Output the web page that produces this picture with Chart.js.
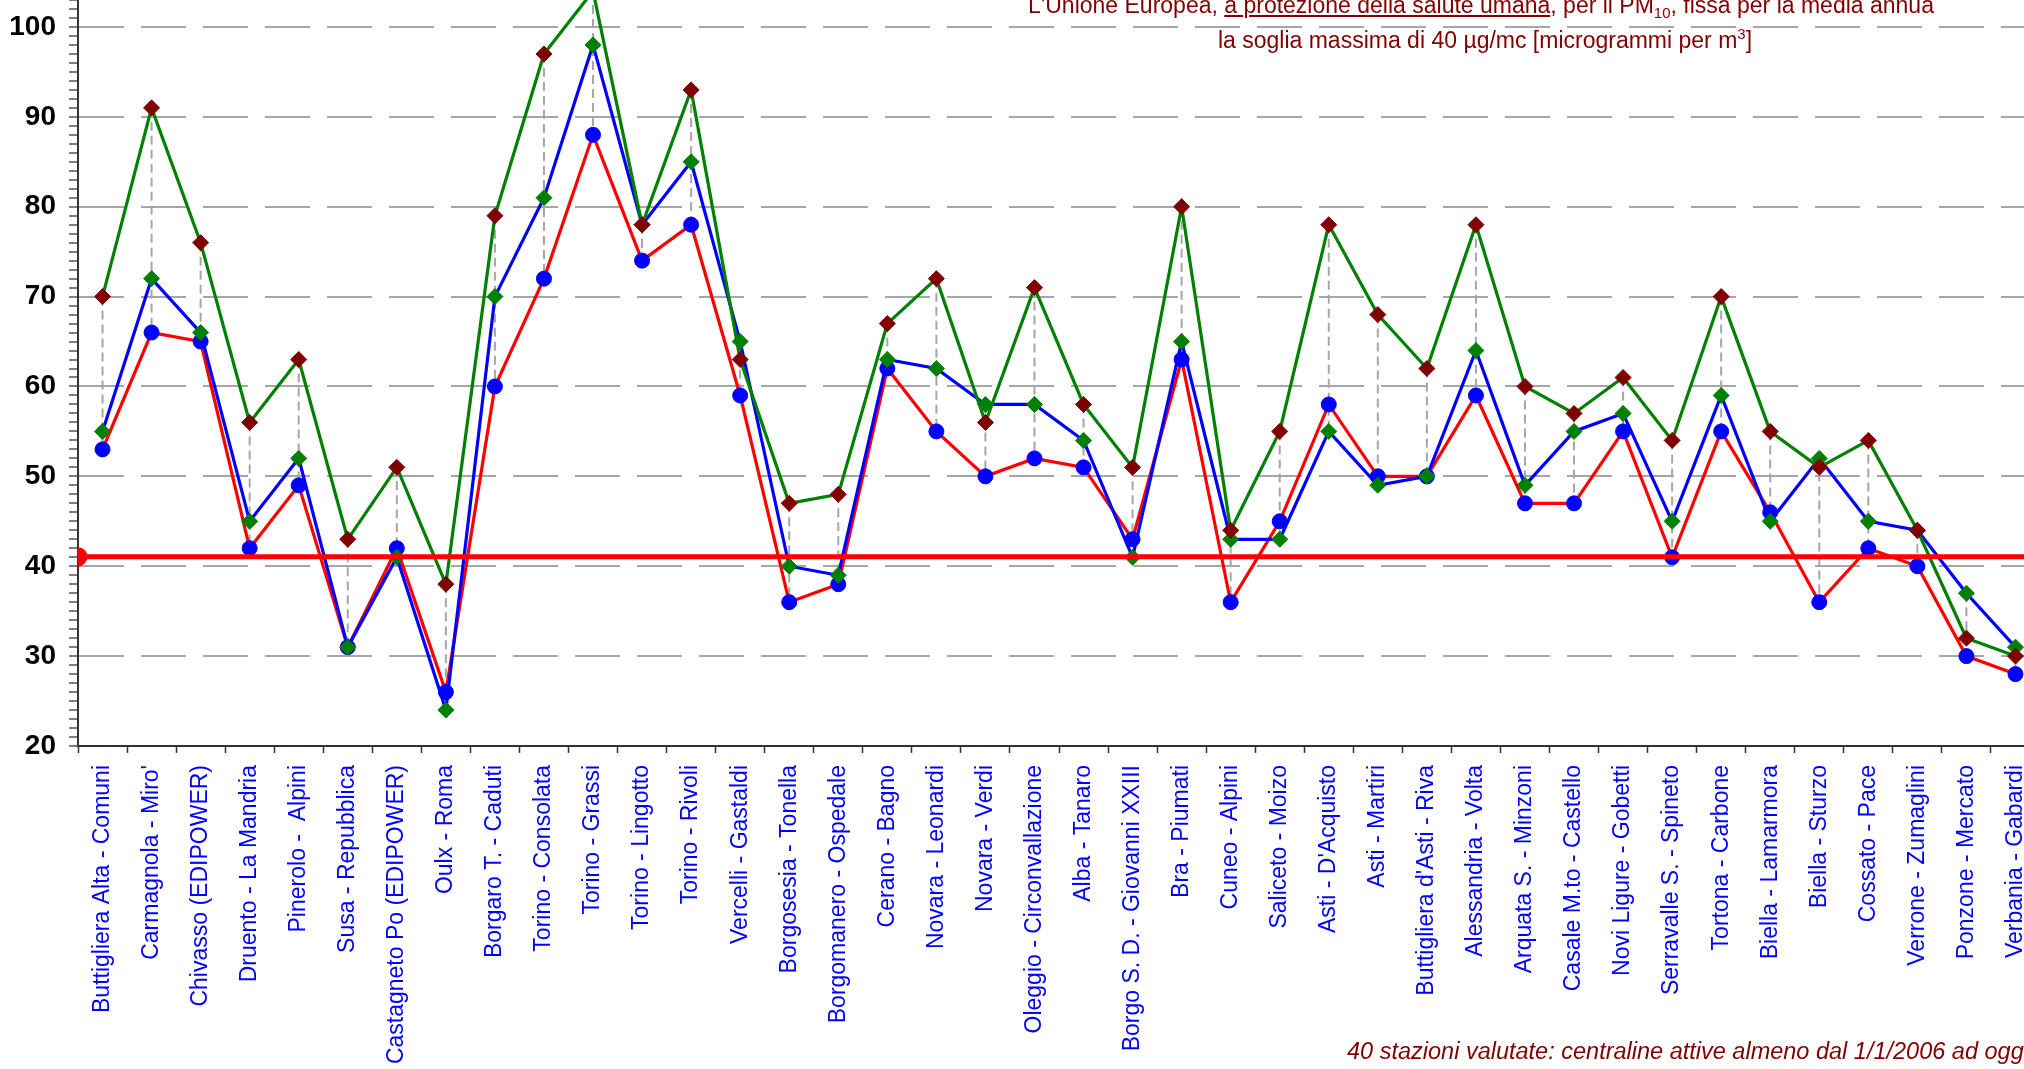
<!DOCTYPE html>
<html>
<head>
<meta charset="utf-8">
<title>PM10 - media annua</title>
<script src="https://cdn.jsdelivr.net/npm/chart.js@4.4.1/dist/chart.umd.min.js"></script>
<style>
  html, body { margin: 0; padding: 0; background: #fff; overflow: hidden; width: 2024px; height: 1069px; }
  #wrap { position: absolute; left: 0; top: 0; width: 2050px; height: 1069px; }
  .nota { position: absolute; white-space: nowrap; color: #800000; font-family: "Liberation Sans", Arial, sans-serif; font-size: 23px; line-height: 23px; }
  .nota u { text-decoration-thickness: 2px; text-underline-offset: 2px; }
  .pedice { font-size: 15px; position: relative; top: 5px; }
  .apice { font-size: 15px; position: relative; top: -9px; }
</style>
</head>
<body>
<div id="wrap"><canvas id="grafico"></canvas></div>
<div class="nota" style="left:1481px; top:-6px; transform:translateX(-50%);">L'Unione Europea, <u>a protezione della salute umana</u>, per il PM<span class="pedice">10</span>, fissa per la media annua</div>
<div class="nota" style="left:1485px; top:29px; transform:translateX(-50%);">la soglia massima di 40 &micro;g/mc [microgrammi per m<span class="apice">3</span>]</div>
<div class="nota" style="left:1347px; top:1040px; font-style:italic; font-size:23.5px;">40 stazioni valutate: centraline attive almeno dal 1/1/2006 ad oggi</div>

<script>
// stazioni di misura (asse x)
const stazioni = [
  "Buttigliera Alta - Comuni", "Carmagnola - Miro'", "Chivasso (EDIPOWER)", "Druento - La Mandria",
  "Pinerolo -  Alpini", "Susa - Repubblica", "Castagneto Po (EDIPOWER)", "Oulx - Roma",
  "Borgaro T. - Caduti", "Torino - Consolata", "Torino - Grassi", "Torino - Lingotto",
  "Torino - Rivoli", "Vercelli - Gastaldi", "Borgosesia - Tonella", "Borgomanero - Ospedale",
  "Cerano - Bagno", "Novara - Leonardi", "Novara - Verdi", "Oleggio - Circonvallazione",
  "Alba - Tanaro", "Borgo S. D. - Giovanni XXIII", "Bra - Piumati", "Cuneo - Alpini",
  "Saliceto - Moizo", "Asti - D'Acquisto", "Asti - Martiri", "Buttigliera d'Asti - Riva",
  "Alessandria - Volta", "Arquata S. - Minzoni", "Casale M.to - Castello", "Novi Ligure - Gobetti",
  "Serravalle S. - Spineto", "Tortona - Carbone", "Biella - Lamarmora", "Biella - Sturzo",
  "Cossato - Pace", "Verrone - Zumaglini", "Ponzone - Mercato", "Verbania - Gabardi"
];

// linea verde, rombi bordeaux
const serieVerde = [70, 91, 76, 56, 63, 43, 51, 38, 79, 97, 104, 78, 93, 63, 47, 48, 67, 72, 56, 71,
                    58, 51, 80, 44, 55, 78, 68, 62, 78, 60, 57, 61, 54, 70, 55, 51, 54, 44, 32, 30];
// linea blu, rombi verdi
const serieBlu = [55, 72, 66, 45, 52, 31, 41, 24, 70, 81, 98, 78, 85, 65, 40, 39, 63, 62, 58, 58,
                  54, 41, 65, 43, 43, 55, 49, 50, 64, 49, 55, 57, 45, 59, 45, 52, 45, 44, 37, 31];
// linea rossa, cerchi blu
const serieRossa = [53, 66, 65, 42, 49, 31, 42, 26, 60, 72, 88, 74, 78, 59, 36, 38, 62, 55, 50, 52,
                    51, 43, 63, 36, 45, 58, 50, 50, 59, 47, 47, 55, 41, 55, 46, 36, 42, 40, 30, 28];

// linea rossa orizzontale (inizio, fine)
const soglia = [41.05, 41.05];

const yMin = 20;
const yMax = 103;

const font = '"Liberation Sans", Arial, sans-serif';

// linee tratteggiate verticali tra valore max e min di ogni stazione
const lineeMaxMin = {
  id: 'lineeMaxMin',
  beforeDatasetsDraw(chart) {
    const ctx = chart.ctx;
    const x = chart.scales.x;
    const y = chart.scales.y;
    ctx.save();
    ctx.strokeStyle = '#a6a6a6';
    ctx.lineWidth = 2;
    ctx.setLineDash([9, 5]);
    for (let i = 0; i < stazioni.length; i++) {
      const v = [serieVerde[i], serieBlu[i], serieRossa[i]];
      const px = x.getPixelForValue(i);
      ctx.beginPath();
      ctx.moveTo(px, y.getPixelForValue(Math.max(...v)));
      ctx.lineTo(px, y.getPixelForValue(Math.min(...v)));
      ctx.stroke();
    }
    ctx.restore();
  }
};

new Chart(document.getElementById('grafico'), {
  type: 'line',
  data: {
    labels: stazioni,
    datasets: [{
      data: soglia.map((v, i) => ({ x: i, y: v })),
      xAxisID: 'x2',
      borderColor: '#ff0000',
      borderWidth: 5,
      pointRadius: [7, 0],
      pointBackgroundColor: '#ff0000',
      pointBorderColor: '#ff0000',
      order: 0
    }, {
      data: serieVerde,
      borderColor: '#008000',
      borderWidth: 3.2,
      pointStyle: 'rectRot',
      pointRadius: 8,
      pointBackgroundColor: '#800000',
      pointBorderColor: '#800000',
      pointBorderWidth: 1,
      order: 1
    }, {
      data: serieBlu,
      borderColor: '#0000ff',
      borderWidth: 3.2,
      pointStyle: 'rectRot',
      pointRadius: 8,
      pointBackgroundColor: '#008000',
      pointBorderColor: '#008000',
      pointBorderWidth: 1,
      order: 2
    }, {
      data: serieRossa,
      borderColor: '#ff0000',
      borderWidth: 3.2,
      pointStyle: 'circle',
      pointRadius: 7.5,
      pointBackgroundColor: '#0000ff',
      pointBorderColor: '#0000ff',
      pointBorderWidth: 1,
      order: 3
    }]
  },
  options: {
    responsive: true,
    maintainAspectRatio: false,
    animation: false,
    events: [],
    layout: { autoPadding: false, padding: { left: 0, right: 10, top: 0, bottom: 0 } },
    elements: { line: { tension: 0, fill: false } },
    plugins: {
      legend: { display: false },
      tooltip: { enabled: false }
    },
    scales: {
      x: {
        type: 'category',
        offset: true,
        afterFit(s) { s.height = 323; s.paddingLeft = 0; s.paddingRight = 0; },
        ticks: {
          color: '#0000ff',
          font: { family: font, size: 23 },
          minRotation: 90,
          maxRotation: 90,
          autoSkip: false,
          padding: 12
        },
        grid: {
          offset: true,
          drawOnChartArea: false,
          drawTicks: true,
          tickLength: 7,
          tickColor: '#333',
          tickWidth: 1.5
        },
        border: { color: '#333', width: 2 }
      },
      x2: {
        type: 'linear',
        min: 0,
        max: 1,
        display: false
      },
      y: {
        min: yMin,
        max: yMax,
        afterBuildTicks(s) {
          const t = [];
          for (let v = yMin; v <= yMax; v++) t.push({ value: v });
          s.ticks = t;
        },
        afterFit(s) { s.width = 78; s.paddingTop = 0; s.paddingBottom = 0; },
        ticks: {
          autoSkip: false,
          color: '#000',
          font: { family: font, size: 28, weight: 'bold' },
          padding: 13,
          callback: v => (v % 10 === 0 ? String(v) : '')
        },
        grid: {
          color: c => (c.tick && c.tick.value % 10 === 0 && c.tick.value > yMin) ? '#a6a6a6' : 'rgba(0,0,0,0)',
          lineWidth: 2,
          drawTicks: true,
          tickLength: 9,
          tickColor: '#555',
          tickWidth: 1.5
        },
        border: { color: '#333', width: 2, dash: [45, 17] }
      }
    }
  },
  plugins: [lineeMaxMin]
});
</script>
</body>
</html>
